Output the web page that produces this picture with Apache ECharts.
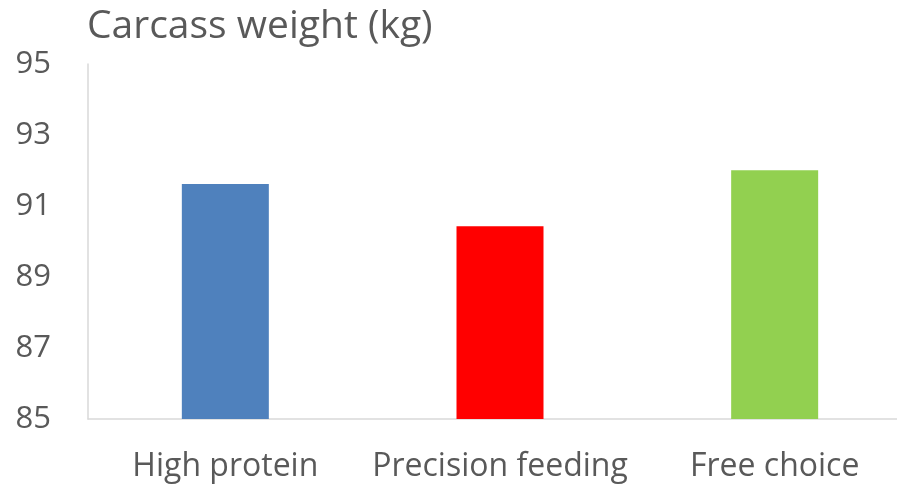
<!DOCTYPE html>
<html>
<head>
<meta charset="utf-8">
<script src="https://cdn.jsdelivr.net/npm/echarts@6/dist/echarts.min.js"></script>
<style>
  html, body { margin: 0; padding: 0; background: #fff; overflow: hidden; }
  /* plot area runs slightly past the right edge in the original */
  #chart { width: 912px; height: 489px; }
</style>
</head>
<body>
<div id="chart"></div>
<script>
// chart data
const categories = ['High protein', 'Precision feeding', 'Free choice'];
const carcassWeight = [91.62, 90.43, 92.01];
const barColors = ['#4F81BD', '#FF0000', '#92D050'];
const yTicks = [85, 87, 89, 91, 93, 95];

const textColor = '#595959';
const fontFamily = '"Open Sans", sans-serif';

const chart = echarts.init(document.getElementById('chart'));

chart.setOption({
  animation: false,
  title: {
    text: 'Carcass weight (kg)',
    left: 82,
    top: 2,
    textStyle: {
      fontFamily: fontFamily,
      fontSize: 39,
      fontWeight: 'normal',
      color: textColor
    }
  },
  grid: {
    left: 88,
    top: 64,
    right: 0,
    bottom: 70
  },
  xAxis: {
    type: 'category',
    data: categories,
    axisLine: { show: true, lineStyle: { color: '#D9D9D9', width: 1.5 } },
    axisTick: { show: false },
    axisLabel: {
      interval: 0,
      hideOverlap: false,
      margin: 32,
      fontFamily: fontFamily,
      fontSize: 32,
      color: textColor
    }
  },
  yAxis: {
    type: 'value',
    min: yTicks[0],
    max: yTicks[yTicks.length - 1],
    interval: 2,
    axisLine: { show: true, lineStyle: { color: '#D9D9D9', width: 1.5 } },
    axisTick: { show: false },
    splitLine: { show: false },
    axisLabel: {
      margin: 37,
      fontFamily: fontFamily,
      fontSize: 31,
      color: textColor
    }
  },
  series: [{
    type: 'bar',
    barWidth: 87,
    data: carcassWeight.map((v, i) => ({
      value: v,
      itemStyle: { color: barColors[i] }
    }))
  }]
});
</script>
</body>
</html>
